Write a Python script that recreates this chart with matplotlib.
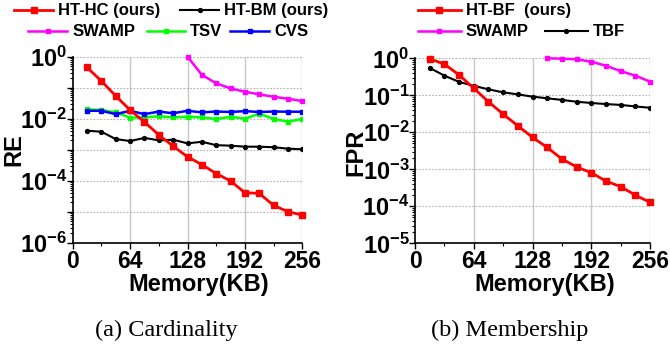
import math
import matplotlib
matplotlib.use("Agg")
import matplotlib.pyplot as plt
from matplotlib.ticker import LogLocator, FuncFormatter, NullFormatter, MultipleLocator

plt.rcParams['font.family'] = ['Liberation Sans', 'DejaVu Sans']
plt.rcParams['font.weight'] = 'bold'
plt.rcParams['mathtext.fontset'] = 'custom'
plt.rcParams['mathtext.rm'] = 'Liberation Sans:bold'
plt.rcParams['mathtext.bf'] = 'Liberation Sans:bold'
plt.rcParams['mathtext.it'] = 'Liberation Sans:bold:italic'
plt.rcParams['mathtext.default'] = 'bf'

memory = [16, 32, 48, 64, 80, 96, 112, 128, 144, 160, 176, 192, 208, 224, 240, 256]

# (a) Cardinality
ht_hc = [0.45, 0.164, 0.054, 0.019, 0.0078, 0.003, 0.0013, 5.9e-4, 3.3e-4, 1.7e-4,
         9.8e-5, 4.1e-5, 3.9e-5, 1.6e-5, 1.0e-5, 7.8e-6]
ht_bm = [0.0041, 0.0038, 0.0022, 0.0019, 0.0024, 0.0020, 0.0021, 0.0016, 0.0018, 0.0014,
         0.00135, 0.00125, 0.00125, 0.0012, 0.00108, 0.00103]
swamp_a_x = [128, 144, 160, 176, 192, 208, 224, 240, 256]
swamp_a = [1.0, 0.26, 0.138, 0.095, 0.074, 0.061, 0.051, 0.044, 0.037]
tsv = [0.020, 0.019, 0.016, 0.0108, 0.011, 0.012, 0.011, 0.0115, 0.011, 0.0098,
       0.0115, 0.010, 0.0145, 0.0098, 0.008, 0.0098]
cvs = [0.018, 0.018, 0.014, 0.018, 0.014, 0.017, 0.015, 0.018, 0.016, 0.017,
       0.0165, 0.0175, 0.0165, 0.017, 0.0168, 0.0168]

# (b) Membership
ht_bf = [0.96, 0.70, 0.355, 0.155, 0.067, 0.031, 0.015, 0.0073, 0.0039, 0.0019,
         0.00116, 0.00081, 0.00048, 0.00034, 0.0002, 0.000128]
tbf = [0.55, 0.34, 0.23, 0.18, 0.145, 0.12, 0.106, 0.092, 0.083, 0.075,
       0.067, 0.062, 0.058, 0.055, 0.050, 0.046]
swamp_b_x = [144, 160, 176, 192, 208, 224, 240, 256]
swamp_b = [1.0, 0.98, 0.94, 0.81, 0.63, 0.45, 0.34, 0.234]

xticks = [0, 64, 128, 192, 256]

W, H = 670, 346
fig = plt.figure(figsize=(W / 100, H / 100), dpi=100)
ax1 = fig.add_axes([72.7 / W, 1 - 242.7 / H, 229.6 / W, 186 / H])
ax2 = fig.add_axes([415 / W, 1 - 243.3 / H, 235 / W, 185 / H])

RED = '#ff0000'
MAG = '#ff00ff'
GRN = '#00ff00'
BLU = '#0000ff'


def style(ax, ymin, ymax, label_every):
    ax.set_yscale('log')
    ax.set_xlim(0, 256)
    ax.set_ylim(ymin, ymax)
    ax.set_xticks(xticks)
    ax.xaxis.set_minor_locator(MultipleLocator(32))
    ax.yaxis.set_major_locator(LogLocator(base=10, numticks=20))
    ax.yaxis.set_minor_locator(LogLocator(base=10, subs=range(2, 10), numticks=50))
    ax.yaxis.set_minor_formatter(NullFormatter())

    def fmt(v, pos):
        e = int(round(math.log10(v)))
        if e % label_every != 0:
            return ''
        return r'$\mathbf{10^{%d}}$' % e
    ax.yaxis.set_major_formatter(FuncFormatter(fmt))
    for s in ['top', 'right']:
        ax.spines[s].set_visible(False)
    for s in ['left', 'bottom']:
        ax.spines[s].set_linewidth(1.2)
    ax.tick_params(axis='x', which='major', labelsize=16.5, length=4, width=1, direction='out', pad=1)
    ax.tick_params(axis='y', which='major', labelsize=17, length=4, width=1, direction='out', pad=0)
    ax.tick_params(axis='both', which='minor', length=2, width=0.8, direction='out')
    for x in [64, 128, 192, 256]:
        ax.axvline(x, color='#c8c8c8', lw=1.0, zorder=0)
    e0 = int(round(math.log10(ymin)))
    e1 = int(round(math.log10(ymax)))
    for e in range(e0 + 1, e1 + 1):
        ax.axhline(10 ** e, color='#b0b0b0', lw=0.8, ls=(0, (1.5, 1.5)), zorder=0)
    ax.set_xlabel('Memory(KB)', fontsize=17, fontweight='bold')


style(ax1, 1e-6, 1.0, 2)
style(ax2, 1e-5, 1.0, 1)

# plot (a)
l_hc, = ax1.plot(memory, ht_hc, color=RED, lw=2, marker='s', ms=5, clip_on=False, zorder=5)
l_bm, = ax1.plot(memory, ht_bm, color='black', lw=1.5, marker='o', ms=2.8, zorder=4)
l_sw, = ax1.plot(swamp_a_x, swamp_a, color=MAG, lw=1.8, marker='s', ms=3, clip_on=False, zorder=3)
l_tsv, = ax1.plot(memory, tsv, color=GRN, lw=1.8, marker='s', ms=3, zorder=3)
l_cvs, = ax1.plot(memory, cvs, color=BLU, lw=1.8, marker='s', ms=3, zorder=3)
ax1.set_ylabel('RE', fontsize=17, fontweight='bold')
ax1.yaxis.set_label_coords(-0.205, 0.5)
ax1.xaxis.set_label_coords(0.55, -0.163)

# plot (b)
l_bf, = ax2.plot(memory, ht_bf, color=RED, lw=2, marker='s', ms=5, clip_on=False, zorder=5)
l_tbf, = ax2.plot(memory, tbf, color='black', lw=1.5, marker='o', ms=2.8, zorder=4)
l_sw2, = ax2.plot(swamp_b_x, swamp_b, color=MAG, lw=1.8, marker='s', ms=3, clip_on=False, zorder=3)
ax2.set_ylabel('FPR', fontsize=17, fontweight='bold')
ax2.yaxis.set_label_coords(-0.204, 0.49)
ax2.xaxis.set_label_coords(0.553, -0.16)


# legends: one entry each, anchored at the start of its line
def leg(handle, label, x, y, hl):
    fig.legend([handle], [label], loc='center left',
               bbox_to_anchor=(x / W, 1 - y / H), frameon=False,
               handlelength=hl, handletextpad=0.3, borderaxespad=0, borderpad=0,
               prop={'weight': 'bold', 'size': 12})


leg(l_hc, 'HT-HC (ours)', 14, 11, 2.35)
leg(l_bm, 'HT-BM (ours)', 180, 11, 2.35)
leg(l_sw, 'SWAMP', 28, 32, 2.35)
leg(l_tsv, 'TSV', 147, 32, 2.3)
leg(l_cvs, 'CVS', 230, 32, 2.35)
leg(l_bf, 'HT-BF  (ours)', 418, 11, 2.55)
leg(l_sw2, 'SWAMP', 418, 32, 2.55)
leg(l_tbf, 'TBF', 545, 32, 2.55)

# sub-captions
cap_font = ['Liberation Serif', 'DejaVu Serif']
fig.text(166 / W, 1 - 330 / H, '(a) Cardinality', ha='center', va='center',
         fontsize=17.5, fontweight='normal', family=cap_font)
fig.text(510 / W, 1 - 330 / H, '(b) Membership', ha='center', va='center',
         fontsize=17.5, fontweight='normal', family=cap_font)

fig.savefig('out.png', dpi=100)
